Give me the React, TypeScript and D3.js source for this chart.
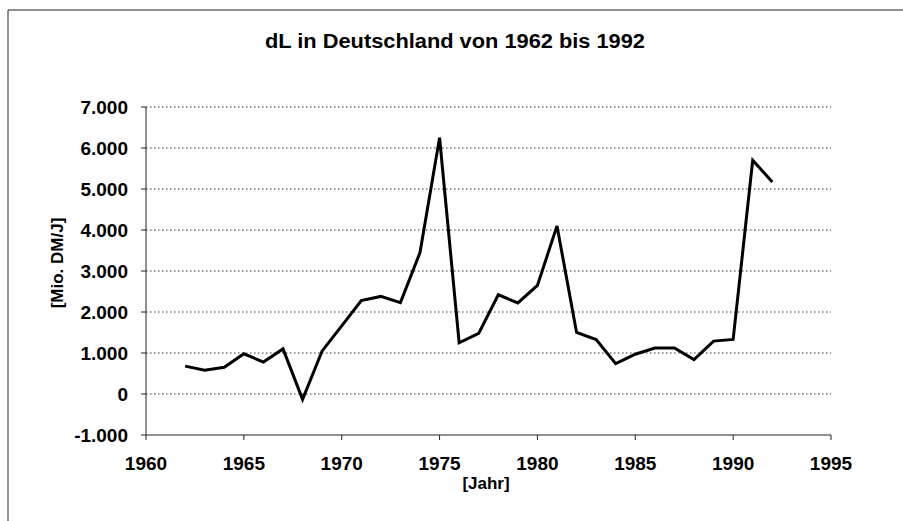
import React from "react";
import * as d3 from "d3";

const years: number[] = [1962,1963,1964,1965,1966,1967,1968,1969,1970,1971,1972,1973,1974,1975,1976,1977,1978,1979,1980,1981,1982,1983,1984,1985,1986,1987,1988,1989,1990,1991,1992];
const values: number[] = [680,580,650,980,780,1100,-130,1050,1660,2280,2380,2230,3450,6250,1250,1480,2420,2220,2650,4100,1500,1330,740,970,1120,1120,840,1290,1330,5700,5170];
const xTicks: number[] = [1960,1965,1970,1975,1980,1985,1990,1995];
const yTicks: number[] = [-1000,0,1000,2000,3000,4000,5000,6000,7000];
const title = "dL in Deutschland von 1962 bis 1992";
const xLabel = "[Jahr]";
const yLabel = "[Mio. DM/J]";

const W = 903, H = 521;
const left = 146, right = 831, top = 107, bottom = 435;

export default function App() {
  const x = d3.scaleLinear().domain([1960, 1995]).range([left, right]);
  const y = d3.scaleLinear().domain([-1000, 7000]).range([bottom, top]);
  const fmt = (v: number) => (v === 0 ? "0" : d3.format(",")(v).replace(/,/g, ".").replace("\u2212", "-"));
  const line = d3.line<number>().x((_, i) => x(years[i])).y((v) => y(v));
  const font = "'Liberation Sans', Arial, sans-serif";
  return (
    <svg width={W} height={H} style={{ position: "absolute", left: 0, top: 0, background: "#fff" }} fontFamily={font}>
      <rect x={0} y={0} width={W} height={H} fill="#fff" />
      <line x1={8} y1={10} x2={8} y2={H} stroke="#222" strokeWidth={1} />
      <line x1={8} y1={10} x2={W} y2={10} stroke="#222" strokeWidth={1} />
      <text x={455} y={48} textAnchor="middle" fontSize={20} fontWeight="bold" textLength={380} lengthAdjust="spacingAndGlyphs">{title}</text>
      {yTicks.filter((t) => t > -1000).map((t) => (
        <line key={"g" + t} x1={left} x2={right} y1={y(t)} y2={y(t)} stroke="#333" strokeWidth={1} strokeDasharray="1.5,2.5" />
      ))}
      <line x1={left} x2={right} y1={y(-1000)} y2={y(-1000)} stroke="#222" strokeWidth={1} />
      <line x1={left} x2={left} y1={y(7000)} y2={y(-1000)} stroke="#222" strokeWidth={1} />
      {yTicks.map((t) => (
        <g key={"y" + t}>
          <line x1={left - 5} x2={left} y1={y(t)} y2={y(t)} stroke="#222" />
          <text x={128} y={y(t) + 6.5} textAnchor="end" fontSize={19} fontWeight="bold">{fmt(t)}</text>
        </g>
      ))}
      {xTicks.map((t) => (
        <g key={"x" + t}>
          <line x1={x(t)} x2={x(t)} y1={bottom} y2={bottom + 5} stroke="#222" />
          <text x={x(t)} y={470} textAnchor="middle" fontSize={19} fontWeight="bold">{t}</text>
        </g>
      ))}
      <text x={486} y={489} textAnchor="middle" fontSize={17} fontWeight="bold">{xLabel}</text>
      <text transform="translate(63,263) rotate(-90)" textAnchor="middle" fontSize={17} fontWeight="bold">{yLabel}</text>
      <path d={line(values) || ""} fill="none" stroke="#000" strokeWidth={3} strokeLinejoin="miter" />
    </svg>
  );
}
